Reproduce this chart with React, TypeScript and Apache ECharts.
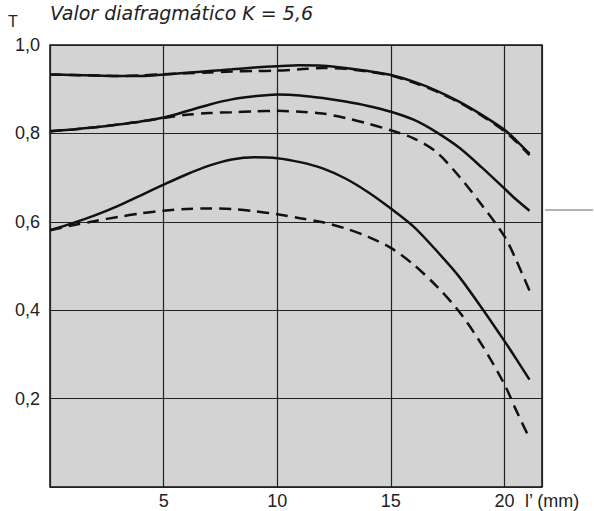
import React, { useEffect, useRef } from "react";
import * as echarts from "echarts";

// l' (mm) positions of the points
const xA = [0, 1, 2, 3, 4, 5, 6, 7, 8, 9, 10, 11, 12, 13, 14, 15, 16, 17, 18, 19, 20, 20.5, 21.1];
// top pair
const topSolid = [0.933, 0.932, 0.931, 0.930, 0.930, 0.933, 0.937, 0.941, 0.945, 0.949, 0.952, 0.954, 0.953, 0.948, 0.941, 0.932, 0.917, 0.897, 0.872, 0.842, 0.808, 0.785, 0.754];
const topDashed = [0.933, 0.932, 0.931, 0.930, 0.931, 0.934, 0.936, 0.938, 0.940, 0.941, 0.942, 0.945, 0.948, 0.946, 0.940, 0.931, 0.915, 0.895, 0.870, 0.840, 0.805, 0.782, 0.751];
// middle pair
const midSolid = [0.805, 0.809, 0.814, 0.820, 0.827, 0.836, 0.850, 0.865, 0.877, 0.884, 0.888, 0.886, 0.880, 0.872, 0.862, 0.849, 0.831, 0.803, 0.768, 0.723, 0.675, 0.651, 0.625];
const midDashed = [0.805, 0.809, 0.814, 0.820, 0.827, 0.835, 0.842, 0.846, 0.848, 0.850, 0.851, 0.849, 0.845, 0.835, 0.822, 0.807, 0.789, 0.758, 0.703, 0.638, 0.567, 0.515, 0.444];
// bottom pair
const lowSolid = [0.581, 0.597, 0.615, 0.636, 0.660, 0.684, 0.707, 0.727, 0.741, 0.746, 0.744, 0.735, 0.721, 0.698, 0.667, 0.630, 0.589, 0.535, 0.476, 0.405, 0.330, 0.291, 0.243];
const lowDashed = [0.581, 0.592, 0.602, 0.611, 0.619, 0.625, 0.629, 0.630, 0.629, 0.624, 0.617, 0.608, 0.599, 0.585, 0.566, 0.541, 0.503, 0.455, 0.397, 0.322, 0.232, 0.175, 0.110];

const xTicks = [5, 10, 15, 20];
const yTicks = [0.2, 0.4, 0.6, 0.8, 1.0];
const titleText = "Valor diafragmático K = 5,6";
const yName = "T";
const xName = "l’ (mm)";

const X_MIN = 0;
const X_MAX = 21.65;

const FONT = "'Liberation Sans', Arial, sans-serif";

function pairs(vals: number[]) {
  return xA.map((x, i) => [x, vals[i]]);
}

export default function App() {
  const ref = useRef<HTMLDivElement>(null);
  useEffect(() => {
    if (!ref.current) return;
    const chart = echarts.init(ref.current, undefined, { renderer: "svg" });
    const solidStyle = { color: "#111", width: 2.5, type: "solid" as const };
    const dashStyle = { color: "#111", width: 2.5, type: [12, 7] as any };
    const mk = (name: string, vals: number[], style: any) => ({
      name,
      type: "line",
      data: pairs(vals),
      smooth: 0.3,
      showSymbol: false,
      symbol: "none",
      lineStyle: style,
      z: 5,
    });
    chart.setOption({
      animation: false,
      backgroundColor: "#ffffff",
      grid: {
        left: 50,
        right: 594 - 542,
        top: 45,
        bottom: 511 - 487,
        show: true,
        backgroundColor: "#d3d3d3",
        borderColor: "#111",
        borderWidth: 1.5,
      },
      xAxis: {
        type: "value",
        min: X_MIN,
        max: X_MAX,
        interval: 5,
        axisLine: { show: false },
        axisTick: { show: false },
        splitLine: { show: true, lineStyle: { color: "#222", width: 1.2 } },
        axisLabel: {
          show: true,
          margin: 5,
          fontSize: 18,
          fontFamily: FONT,
          color: "#222",
          showMinLabel: false,
          showMaxLabel: false,
          formatter: (v: number) => (xTicks.includes(v) ? String(v) : ""),
        },
      },
      yAxis: {
        type: "value",
        min: 0,
        max: 1,
        interval: 0.2,
        axisLine: { show: false },
        axisTick: { show: false },
        splitLine: { show: true, lineStyle: { color: "#222", width: 1.2 } },
        axisLabel: {
          show: true,
          margin: 10,
          fontSize: 18,
          fontFamily: FONT,
          color: "#222",
          formatter: (v: number) => {
            const hit = yTicks.find((t) => Math.abs(t - v) < 1e-6);
            return hit === undefined ? "" : hit.toFixed(1).replace(".", ",");
          },
        },
      },
      graphic: [
        {
          type: "text",
          left: 8,
          top: 13,
          style: { text: yName, fontSize: 16, fontFamily: FONT, fill: "#222" },
        },
        {
          type: "text",
          left: 50,
          top: 3,
          style: {
            text: titleText,
            fontSize: 19,
            fontStyle: "italic",
            fontFamily: "'DejaVu Sans', sans-serif",
            fill: "#222",
          },
        },
        {
          type: "text",
          left: 525,
          top: 492,
          style: { text: xName, fontSize: 18, fontFamily: FONT, fill: "#222" },
        },
        {
          type: "line",
          shape: { x1: 545, y1: 210, x2: 593, y2: 210 },
          style: { stroke: "#666", lineWidth: 1 },
        },
      ],
      series: [
        mk("top-solid", topSolid, solidStyle),
        mk("top-dashed", topDashed, dashStyle),
        mk("mid-solid", midSolid, solidStyle),
        mk("mid-dashed", midDashed, dashStyle),
        mk("low-solid", lowSolid, solidStyle),
        mk("low-dashed", lowDashed, dashStyle),
      ],
    });
    return () => chart.dispose();
  }, []);
  return (
    <div
      ref={ref}
      style={{ position: "fixed", left: 0, top: 0, width: 594, height: 511 }}
    />
  );
}
